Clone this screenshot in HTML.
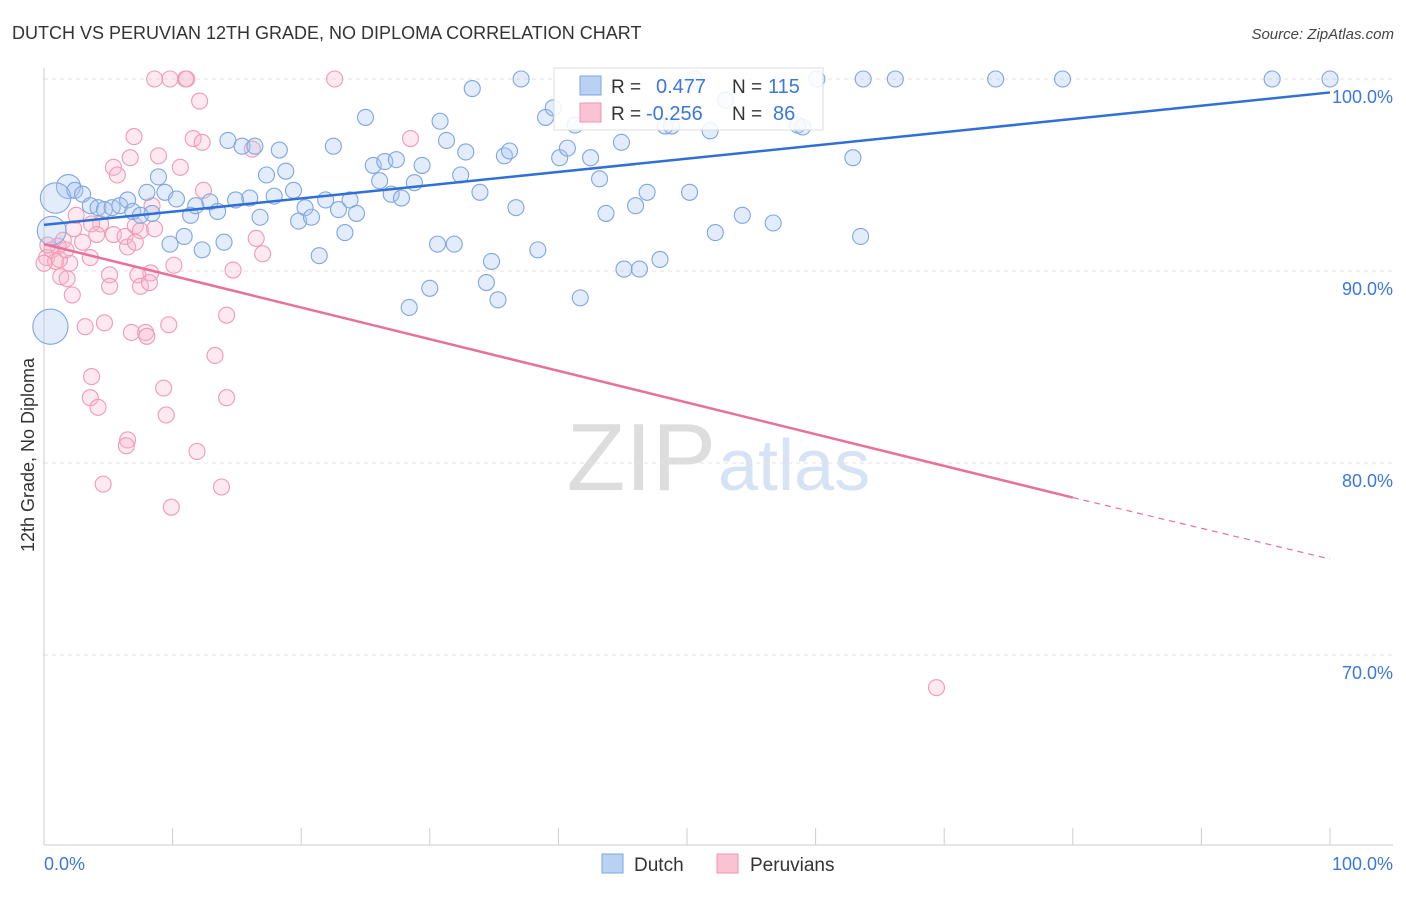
<!DOCTYPE html>
<html><head><meta charset="utf-8"><style>
body{margin:0;background:#fff;font-family:"Liberation Sans",sans-serif;}
svg text{font-family:"Liberation Sans",sans-serif;}
</style></head><body>
<svg id="chart" width="1406" height="892" xmlns="http://www.w3.org/2000/svg">
<text x="12" y="39" font-size="18" fill="#333">DUTCH VS PERUVIAN 12TH GRADE, NO DIPLOMA CORRELATION CHART</text>
<text x="1394" y="39" font-size="15" fill="#444" font-style="italic" text-anchor="end">Source: ZipAtlas.com</text>
<text x="716" y="490" font-size="96" fill="#ddd" text-anchor="end" font-family="Liberation Serif">ZIP</text>
<text x="718" y="490" font-size="72" fill="#d6e3f5">atlas</text>
<g id="grid"></g><g id="axes"></g><g id="pts"></g><g id="lines"></g>
<text transform="translate(34,455) rotate(-90)" font-size="18" fill="#333" text-anchor="middle">12th Grade, No Diploma</text>
<g>
<rect x="554" y="68" width="269" height="62" fill="#fff" fill-opacity="0.85" stroke="#ddd"/>
<rect x="580" y="76" width="21" height="19" fill="#b9d1f3" stroke="#7ea6e0"/>
<rect x="580" y="103" width="21" height="19" fill="#f9c3d3" stroke="#ee94b0"/>
<text x="611" y="93" font-size="19" fill="#333">R = </text><text x="656" y="93" font-size="20" fill="#3c78d8">0.477</text>
<text x="732" y="93" font-size="19" fill="#333">N = </text><text x="768" y="93" font-size="20" fill="#3c78d8">115</text>
<text x="611" y="120" font-size="19" fill="#333">R = </text><text x="646" y="120" font-size="20" fill="#3c78d8">-0.256</text>
<text x="732" y="120" font-size="19" fill="#333">N = </text><text x="773" y="120" font-size="20" fill="#3c78d8">86</text>
</g>
<g>
<rect x="602" y="854" width="21" height="19" fill="#b9d1f3" stroke="#7ea6e0"/>
<text x="634" y="871" font-size="19" fill="#333">Dutch</text>
<rect x="717" y="854" width="21" height="19" fill="#f9c3d3" stroke="#ee94b0"/>
<text x="750" y="871" font-size="19" fill="#333">Peruvians</text>
</g>
</svg>
<script>
const yTicks=[100,90,80,70];
const yTickLabels=["100.0%","90.0%","80.0%","70.0%"];
const xTickLabels=["0.0%","100.0%"];
const dutchX=[1.9,0.9,0.6,0.5,2.4,3.0,3.6,4.2,4.7,5.3,5.9,6.5,6.9,7.5,8.0,8.4,8.9,9.4,9.8,10.3,10.9,11.4,11.8,12.3,12.9,13.5,14.0,14.3,14.9,15.4,16.0,16.4,16.8,17.3,17.9,18.3,18.8,19.4,19.8,20.3,20.8,21.4,21.9,22.5,22.9,23.4,23.8,24.3,25.0,25.6,26.1,26.5,27.0,27.4,27.8,28.4,28.8,29.4,30.0,30.6,30.8,31.3,31.9,32.4,32.8,33.3,33.9,34.4,34.8,35.3,35.8,36.2,36.7,37.1,38.4,39.0,39.6,40.1,40.7,41.3,41.7,42.5,43.2,43.7,44.9,45.1,46.0,46.3,46.9,47.9,48.3,48.8,50.2,50.6,51.8,52.2,53.0,54.3,56.7,58.6,59.0,60.1,62.9,63.5,63.7,66.2,74.0,79.2,95.5,100];
const dutchY=[94.4,93.8,92.1,87.1,94.2,94.0,93.4,93.3,93.2,93.3,93.4,93.7,93.1,92.9,94.1,93.0,94.9,94.1,91.4,93.75,91.8,92.9,93.4,91.1,93.6,93.1,91.5,96.8,93.7,96.5,93.8,96.5,92.8,95.0,93.9,96.3,95.2,94.2,92.6,93.3,92.8,90.8,93.7,96.5,93.2,92.0,93.7,93.0,98.0,95.5,94.7,95.7,94.0,95.8,93.8,88.1,94.6,95.5,89.1,91.4,97.8,96.8,91.4,95.0,96.2,99.5,94.1,89.4,90.5,88.5,96.0,96.25,93.3,100,91.1,98.0,98.5,95.9,96.4,97.6,88.6,95.9,94.8,93.0,96.7,90.1,93.4,90.1,94.1,90.6,97.55,97.55,94.1,100,97.3,92.0,98.9,92.9,92.5,97.6,97.5,100,95.9,91.8,100,100,100,100,100,100];
const dutchSize=[1.5,1.9,1.8,2.2];
const peruX=[8.6,9.8,11.0,11.1,22.6,12.1,7.0,11.6,12.3,28.5,8.9,6.7,16.2,10.6,5.4,5.7,12.4,8.4,2.5,4.4,3.7,7.1,4.1,5.4,6.3,7.5,8.6,2.3,3.0,1.5,1.1,0.6,0.2,0.9,2.0,3.6,16.5,17.0,10.1,14.7,5.1,8.3,7.3,1.3,1.8,5.1,7.5,8.2,2.2,14.2,3.2,4.7,9.7,6.8,7.9,8.0,13.3,3.7,9.3,3.6,14.2,4.2,9.5,6.5,6.4,11.9,4.6,13.8,9.9,69.4,0,0.3,1.2,1.7,6.5,7.1];
const peruY=[100,100,100,100,100,98.85,97.0,96.9,96.7,96.9,96.0,95.9,96.35,95.4,95.4,95.0,94.2,93.4,92.9,92.45,92.45,92.35,91.9,91.9,91.8,92.1,92.2,92.2,91.5,91.6,91.3,91.1,90.7,90.5,90.4,90.7,91.7,90.9,90.3,90.05,89.8,89.9,89.8,89.7,89.6,89.2,89.2,89.4,88.75,87.7,87.1,87.3,87.2,86.8,86.8,86.6,85.6,84.5,83.9,83.4,83.4,82.9,82.5,81.2,80.9,80.6,78.9,78.75,77.7,68.3,90.4,91.35,90.6,91.1,91.25,91.5];
const dutchTrend=[92.4,99.3];
const peruTrend=[91.4,78.2,75.0];
const peruSolidEnd=80;
const X=v=>44+v*12.86, Y=v=>79+(100-v)*19.2;
const NS="http://www.w3.org/2000/svg";
function mk(tag,attrs,parent){const e=document.createElementNS(NS,tag);for(const k in attrs)e.setAttribute(k,attrs[k]);parent.appendChild(e);return e;}
const grid=document.getElementById('grid'),axes=document.getElementById('axes'),pts=document.getElementById('pts'),lines=document.getElementById('lines');
yTicks.forEach((t,i)=>{
 const l=mk('line',{x1:44,x2:1393,y1:Y(t),y2:Y(t),stroke:'#e3e3e3','stroke-dasharray':'4,4'},grid);
 
 
 const tx=mk('text',{x:1393,y:Y(t)+24,'font-size':18,fill:'#3c78d8','text-anchor':'end'},axes);tx.textContent=yTickLabels[i];
 
 
});
const ax=mk('line',{x1:44,x2:1393,y1:845,y2:845,stroke:'#ccc'},axes);


const ay=mk('line',{x1:44,x2:44,y1:68,y2:845,stroke:'#ccc'},axes);


for(let i=0;i<=10;i++){const t=mk('line',{x1:X(i*10),x2:X(i*10),y1:828,y2:845,stroke:'#ccc'},axes);
 
 }
[[0,'start',X(0)],[1,'end',1393]].forEach(([i,a,x])=>{const t=mk('text',{x:x,y:870,'font-size':18,fill:'#3c78d8','text-anchor':a},axes);t.textContent=xTickLabels[i];
 
 });
peruX.forEach((v,i)=>{const c=mk('circle',{cx:X(v),cy:Y(peruY[i]),r:8,fill:'#f7b6c9','fill-opacity':0.3,stroke:'#f09ab4','stroke-width':1.1},pts);
 
 });
dutchX.forEach((v,i)=>{const c=mk('circle',{cx:X(v),cy:Y(dutchY[i]),r:8*(dutchSize[i]||1),fill:'#a9c6ef','fill-opacity':0.33,stroke:'#7ea6e0','stroke-width':1.1},pts);
 
 });
const bl=mk('line',{x1:X(0),y1:Y(dutchTrend[0]),x2:X(100),y2:Y(dutchTrend[1]),stroke:'#2f6fd6','stroke-width':2.5},lines);


const pl=mk('line',{x1:X(0),y1:Y(peruTrend[0]),x2:X(peruSolidEnd),y2:Y(peruTrend[1]),stroke:'#e8709a','stroke-width':2.5},lines);


const pd=mk('line',{x1:X(peruSolidEnd),y1:Y(peruTrend[1]),x2:X(100),y2:Y(peruTrend[2]),stroke:'#e8709a','stroke-width':1.2,'stroke-dasharray':'6,5'},lines);


</script>
</body></html>
